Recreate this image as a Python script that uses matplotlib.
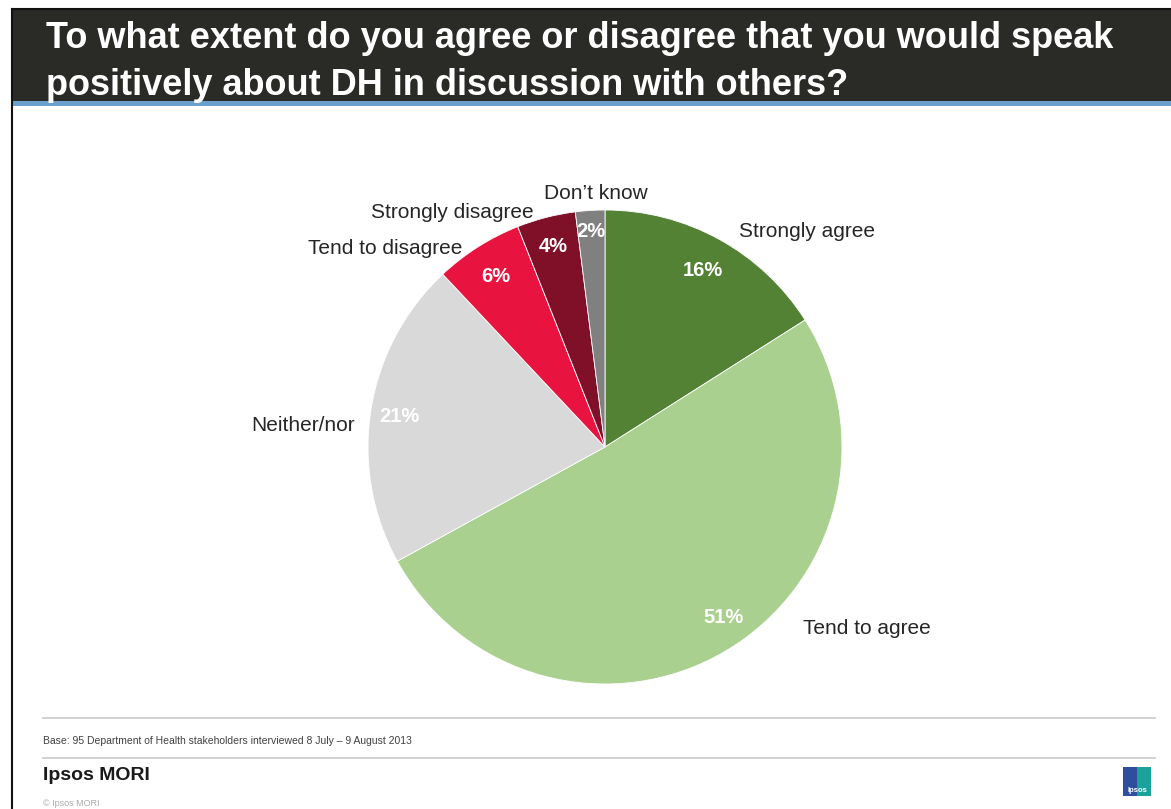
import numpy as np
import matplotlib.pyplot as plt
from matplotlib.patches import Rectangle

plt.rcParams['font.family'] = ['Liberation Sans', 'DejaVu Sans']

# survey answers, clockwise from 12 o'clock
categories = ['Strongly agree', 'Tend to agree', 'Neither/nor',
              'Tend to disagree', 'Strongly disagree', 'Don\u2019t know']
values = [16, 51, 21, 6, 4, 2]
colors = ['#548235', '#a9d08e', '#d9d9d9', '#e8133f', '#7f1028', '#808080']

title = ('To what extent do you agree or disagree that you would speak\n'
         'positively about DH in discussion with others?')
base_note = 'Base: 95 Department of Health stakeholders interviewed 8 July \u2013 9 August 2013'

# label placement (pie units) and alignment
label_pos = [(0.565, 0.91), (0.835, -0.765), (-1.055, 0.09),
             (-0.603, 0.838), (-0.30, 0.99), (-0.038, 1.07)]
label_ha = ['left', 'left', 'right', 'right', 'right', 'center']
pct_dist = [0.86, 0.87, 0.88, 0.86, 0.88, 0.92]
pct_shift = [0, 4.5, 0, 0, 0, 0]   # degrees, counter-clockwise

W, H = 1171, 809
fig = plt.figure(figsize=(W / 100, H / 100), dpi=100)
fig.patch.set_facecolor('white')

def px(x, y, w, h):
    # pixel box (top-left origin) -> figure fraction
    return [x / W, 1 - (y + h) / H, w / W, h / H]

# title bar
fig.add_artist(Rectangle((12 / W, 1 - 101 / H), (W - 12) / W, 92 / H,
                         transform=fig.transFigure, facecolor='#2a2a26',
                         edgecolor='none'))
fig.add_artist(Rectangle((12 / W, 1 - 106 / H), (W - 12) / W, 5 / H,
                         transform=fig.transFigure, facecolor='#6a9fce',
                         edgecolor='none'))
fig.add_artist(plt.Line2D([12 / W, 1], [1 - 9 / H, 1 - 9 / H],
                          transform=fig.transFigure, color='#111111', lw=1.5))
fig.add_artist(plt.Line2D([12 / W, 12 / W], [0, 1 - 9 / H],
                          transform=fig.transFigure, color='#111111', lw=1.5))
fig.text(46 / W, 1 - 62 / H, title, color='white', fontsize=26,
         fontweight='bold', va='center', ha='left', linespacing=1.42)

# pie
cx, cy, R = 605, 447, 237
ax = fig.add_axes(px(cx - R, cy - R, 2 * R, 2 * R))
wedges, _ = ax.pie(values, colors=colors, startangle=90, counterclock=False,
                   radius=1, wedgeprops=dict(linewidth=0.6, edgecolor='white'))
ax.set_xlim(-1, 1)
ax.set_ylim(-1, 1)
ax.set_aspect('equal')
ax.axis('off')

for w, v, d, s in zip(wedges, values, pct_dist, pct_shift):
    ang = np.deg2rad((w.theta1 + w.theta2) / 2 + s)
    ax.text(d * np.cos(ang), d * np.sin(ang) - 0.008, f'{v}%', color='white',
            fontsize=14.5, fontweight='bold', ha='center', va='center')

for name, (lx, ly), ha in zip(categories, label_pos, label_ha):
    ax.text(lx, ly, name, fontsize=15, color='#262626', ha=ha, va='center')

# footer
fig.add_artist(plt.Line2D([43 / W, 1155 / W], [1 - 718 / H] * 2,
                          transform=fig.transFigure, color='#c8c8c8', lw=1.2))
fig.add_artist(plt.Line2D([43 / W, 1155 / W], [1 - 758 / H] * 2,
                          transform=fig.transFigure, color='#c8c8c8', lw=1.2))
fig.text(43 / W, 1 - 741 / H, base_note, fontsize=7.5, color='#404040',
         va='center', ha='left')
fig.text(43 / W, 1 - 776 / H, 'Ipsos MORI', fontsize=14, color='#1a1a1a',
         va='center', ha='left', fontweight='bold')
fig.text(43 / W, 1 - 803 / H, '\u00a9 Ipsos MORI', fontsize=6.5,
         color='#aaaaaa', va='center', ha='left')

# logo
fig.add_artist(Rectangle((1123 / W, 1 - 796 / H), 14 / W, 29 / H,
                         transform=fig.transFigure, facecolor='#2f4f9e',
                         edgecolor='none'))
fig.add_artist(Rectangle((1137 / W, 1 - 796 / H), 14 / W, 29 / H,
                         transform=fig.transFigure, facecolor='#1aa39a',
                         edgecolor='none'))
fig.text(1137 / W, 1 - 790 / H, 'Ipsos', fontsize=5.5, color='white',
         ha='center', va='center', fontweight='bold')

fig.savefig('out.png', dpi=100)
